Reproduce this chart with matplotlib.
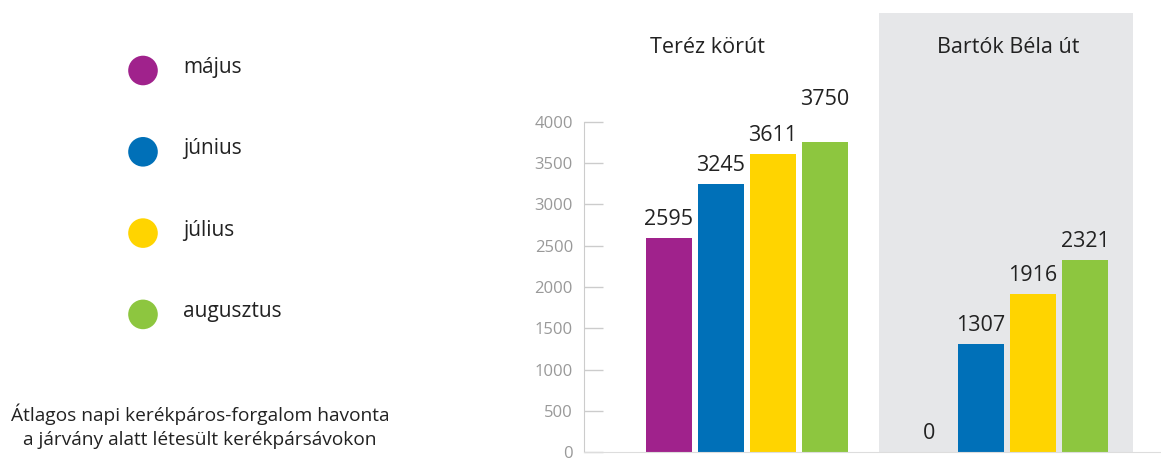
import matplotlib.pyplot as plt
from matplotlib.patches import Circle

plt.rcParams["font.family"] = ["Open Sans", "DejaVu Sans"]

months = ["május", "június", "július", "augusztus"]
colors = ["#A0228C", "#0070B8", "#FFD400", "#8DC63F"]
streets = ["Teréz körút", "Bartók Béla út"]
terez = [2595, 3245, 3611, 3750]
bartok = [0, 1307, 1916, 2321]
caption = "Átlagos napi kerékpáros-forgalom havonta\na járvány alatt létesült kerékpársávokon"

fig = plt.figure(figsize=(11.61, 4.59), dpi=100)

# main bar axes, placed in pixel terms
W, H = 1161, 459
left, right, bottom, height = 584, 1161, 6.7, 439.3
ax = fig.add_axes([left / W, bottom / H, (right - left) / W, height / H])

ax.axvspan(4.04, 8.92, color="#E6E7E9", zorder=0, lw=0)

title_x = [0.75, 6.52]
for g, vals in enumerate([terez, bartok]):
    for i, (v, c) in enumerate(zip(vals, colors)):
        x = g * 5 + i
        ax.bar(x, v, width=0.885, color=c, zorder=2)
        lift = 290 if v == max(terez) else 0
        ax.text(x, v + 157 + lift, str(v), ha="center", va="baseline",
                fontsize=15.5, color="#222222")
    ax.text(title_x[g], 4828, streets[g], ha="center", va="baseline",
            fontsize=15.5, color="#222222")

ax.set_xlim(-1.63, 9.46)
ax.set_ylim(0, 5315)
ax.set_yticks(range(0, 4001, 500))
ax.set_xticks([])
ax.tick_params(axis="y", direction="in", length=14, width=1, color="#cccccc",
               labelcolor="#999999", labelsize=12, pad=8)
for s in ["top", "right"]:
    ax.spines[s].set_visible(False)
ax.spines["left"].set_bounds(0, 4000)
ax.spines["left"].set_color("#cccccc")
ax.spines["bottom"].set_color("#dddddd")
ax.patch.set_alpha(0)

# legend and caption in pixel coords
ov = fig.add_axes([0, 0, 1, 1], zorder=-1)
ov.set_xlim(0, W)
ov.set_ylim(H, 0)
ov.axis("off")
for k, (m, c) in enumerate(zip(months, colors)):
    y = 70.5 + k * 81.3
    ov.add_patch(Circle((143, y), 14.8, color=c, lw=0))
    ov.text(183, y - 3, m, ha="left", va="center", fontsize=15, color="#222222")
ov.text(200, 426, caption, ha="center", va="center", fontsize=13.8, color="#222222",
        linespacing=1.45)

fig.savefig("out.png", dpi=100)
